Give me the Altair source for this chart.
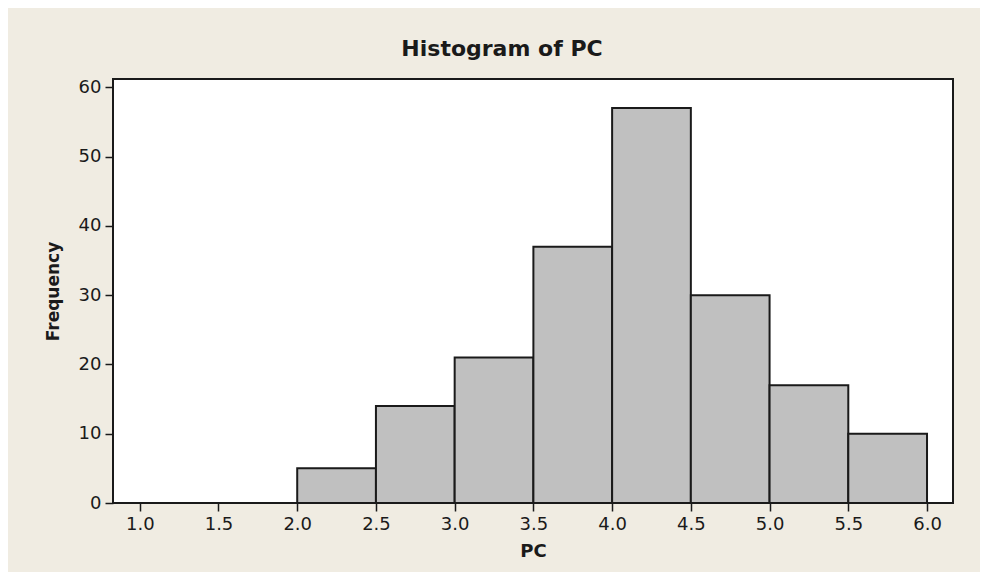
import altair as alt
import pandas as pd

bin_start = [1.0, 1.5, 2.0, 2.5, 3.0, 3.5, 4.0, 4.5, 5.0, 5.5]
bin_end = [1.5, 2.0, 2.5, 3.0, 3.5, 4.0, 4.5, 5.0, 5.5, 6.0]
counts = [0, 0, 5, 14, 21, 37, 57, 30, 17, 10]
x_ticks = [1.0, 1.5, 2.0, 2.5, 3.0, 3.5, 4.0, 4.5, 5.0, 5.5, 6.0]
y_ticks = [0, 10, 20, 30, 40, 50, 60]

df = pd.DataFrame({"start": bin_start, "end": bin_end, "count": counts})

FONT = "DejaVu Sans"
INK = "#1a1a1a"

chart = (
    alt.Chart(df)
    .mark_rect(fill="#c0c0c0", stroke=INK, strokeWidth=2)
    .encode(
        x=alt.X(
            "start:Q",
            scale=alt.Scale(domain=[0.83, 6.165], nice=False, zero=False),
            axis=alt.Axis(values=x_ticks, format=".1f", title="PC"),
        ),
        x2="end:Q",
        y=alt.Y(
            "count:Q",
            scale=alt.Scale(domain=[0, 61.2], nice=False),
            axis=alt.Axis(values=y_ticks, title="Frequency"),
        ),
        y2=alt.datum(0),
    )
    .properties(
        width=840,
        height=424,
        autosize=alt.AutoSizeParams(type="none"),
        padding={"left": 105, "top": 71, "right": 27, "bottom": 69},
        background="#f0ece2",
        title=alt.TitleParams(
            "Histogram of PC",
            font=FONT,
            fontSize=22,
            fontWeight="bold",
            color=INK,
            anchor="middle",
            frame="group",
            dx=-31,
            offset=17,
        ),
    )
    .configure_view(fill="white", stroke=INK, strokeWidth=2)
    .configure_axis(
        domain=False,
        grid=False,
        ticks=True,
        tickColor=INK,
        tickSize=8,
        tickWidth=1.5,
        labelFont=FONT,
        labelFontSize=18,
        labelColor=INK,
        labelPadding=4,
        titleFont=FONT,
        titleFontSize=18,
        titleFontWeight="bold",
        titleColor=INK,
    )
    .configure_axisX(titlePadding=9)
    .configure_axisY(titlePadding=16, titleFontSize=17)
)

chart.save("out.html", embed_options={"renderer": "svg", "actions": False})
